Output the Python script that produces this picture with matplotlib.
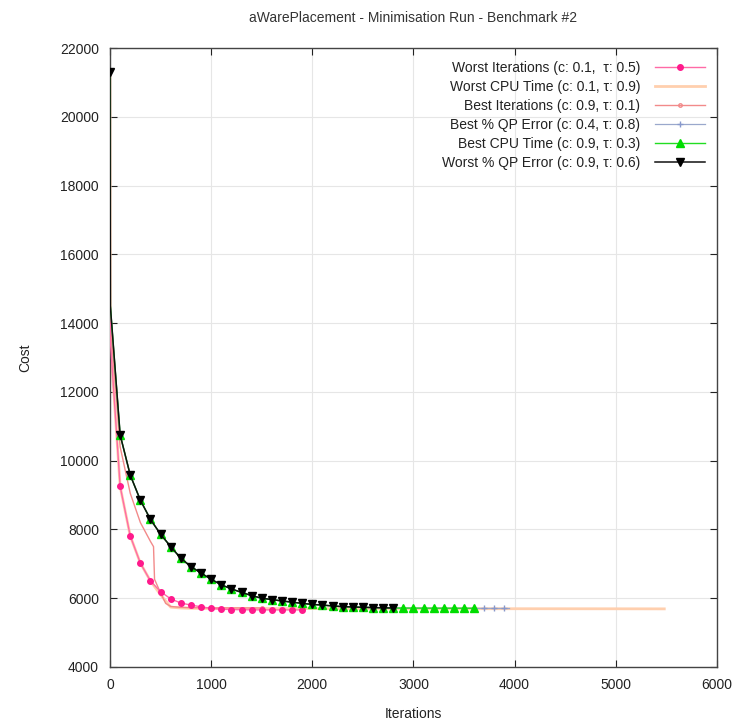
import matplotlib
matplotlib.use('Agg')
import matplotlib.pyplot as plt

plt.rcParams['font.family'] = ['Liberation Sans', 'DejaVu Sans']
plt.rcParams['font.size'] = 10

# Cost per iteration
worst_iter_x = [0, 3, 100, 200, 300, 400, 500, 600, 700, 800, 900, 1000, 1100,
                1200, 1300, 1400, 1500, 1600, 1700, 1800, 1900]
worst_iter_y = [21300, 13500, 9250, 7810, 7020, 6500, 6190, 5980, 5860, 5800,
                5750, 5705, 5680, 5670, 5665, 5662, 5660, 5660, 5660, 5660, 5660]

worst_cpu_x = [0, 3, 100, 200, 300, 400, 500, 600, 700, 800, 1000, 1500, 2000,
               2500, 3000, 3500, 4000, 4500, 5000, 5480]
worst_cpu_y = [21300, 13500, 9250, 7810, 7020, 6500, 6100, 5740, 5715, 5705,
               5700, 5700, 5698, 5697, 5696, 5695, 5694, 5693, 5692, 5690]

best_iter_x = [0, 3, 100, 200, 300, 400, 430, 440, 500, 550, 600, 700, 800,
               1000, 1200, 1500]
best_iter_y = [21300, 14000, 10400, 9050, 8200, 7650, 7500, 6550, 6150, 5850,
               5760, 5735, 5725, 5720, 5718, 5716]

best_qp_x = [0, 3, 100, 200, 300, 400, 500, 600, 700, 800, 900, 1000, 1100,
             1200, 1300, 1400, 1500, 1600, 1700, 1800, 1900, 2000, 2100, 2200,
             2300, 2400, 2500, 2600, 2700, 2800, 2900, 3000, 3100, 3200, 3300,
             3400, 3500, 3600, 3700, 3800, 3900, 3950]
best_qp_y = [21300, 14500, 10750, 9580, 8850, 8290, 7860, 7500, 7160, 6920,
             6730, 6550, 6390, 6270, 6170, 6075, 6000, 5960, 5920, 5885, 5850,
             5820, 5800, 5775, 5755, 5745, 5735, 5728, 5720, 5715, 5712, 5710,
             5709, 5708, 5707, 5706, 5705, 5704, 5703, 5702, 5701, 5700]

best_cpu_x = [0, 3, 100, 200, 300, 400, 500, 600, 700, 800, 900, 1000, 1100,
              1200, 1300, 1400, 1500, 1600, 1700, 1800, 1900, 2000, 2100, 2200,
              2300, 2400, 2500, 2600, 2700, 2800, 2900, 3000, 3100, 3200, 3300,
              3400, 3500, 3600]
best_cpu_y = [21300, 14500, 10750, 9580, 8850, 8290, 7860, 7500, 7160, 6920,
              6730, 6550, 6390, 6270, 6170, 6075, 6000, 5960, 5920, 5885, 5850,
              5820, 5800, 5775, 5755, 5745, 5735, 5728, 5720, 5715, 5713, 5712,
              5711, 5710, 5710, 5709, 5709, 5708]

worst_qp_x = [0, 3, 100, 200, 300, 400, 500, 600, 700, 800, 900, 1000, 1100,
              1200, 1300, 1400, 1500, 1600, 1700, 1800, 1900, 2000, 2100, 2200,
              2300, 2400, 2500, 2600, 2700, 2800]
worst_qp_y = [21300, 14500, 10750, 9580, 8850, 8290, 7860, 7500, 7160, 6920,
              6730, 6550, 6390, 6270, 6170, 6075, 6000, 5960, 5920, 5885, 5850,
              5820, 5800, 5775, 5755, 5745, 5735, 5728, 5720, 5715]

LABELS = ['Worst Iterations (c: 0.1,  \u03c4: 0.5)',
          'Worst CPU Time (c: 0.1, \u03c4: 0.9)',
          'Best Iterations (c: 0.9, \u03c4: 0.1)',
          'Best % QP Error (c: 0.4, \u03c4: 0.8)',
          'Best CPU Time (c: 0.9, \u03c4: 0.3)',
          'Worst % QP Error (c: 0.9, \u03c4: 0.6)']


def every(xs, step=100):
    return [i for i, v in enumerate(xs) if v % step == 0 and v > 0]


fig = plt.figure(figsize=(7.36, 7.22), dpi=100)
ax = fig.add_axes([0.1495, 0.0762, 0.8245, 0.8573])

ax.plot(worst_iter_x, worst_iter_y, color='#ff6aa6', lw=1.0, marker='o',
        ms=4, mfc='#ff1a8c', mec='#ff1a8c', markevery=every(worst_iter_x),
        label=LABELS[0], zorder=4)
ax.plot(worst_cpu_x, worst_cpu_y, color='#ffcfae', lw=2.0,
        label=LABELS[1], zorder=2)
ax.plot(best_iter_x, best_iter_y, color='#f28a8a', lw=1.0, marker='o',
        ms=2.5, mfc='none', mec='#f28a8a', markevery=every(best_iter_x, 500),
        label=LABELS[2], zorder=3)
ax.plot(best_qp_x, best_qp_y, color='#9aa8cc', lw=0.9, marker='+',
        ms=4, mec='#8899cc', markevery=every(best_qp_x),
        label=LABELS[3], zorder=5)
ax.plot(best_cpu_x, best_cpu_y, color='#22dd22', lw=1.0, marker='^',
        ms=6, mfc='#00dd00', mec='#00dd00', markevery=every(best_cpu_x),
        label=LABELS[4], zorder=6)
ax.plot(worst_qp_x, worst_qp_y, color='#111111', lw=1.1, marker='v',
        ms=6, mfc='black', mec='black',
        markevery=[0] + every(worst_qp_x),
        label=LABELS[5], zorder=7)

ax.set_xlim(0, 6000)
ax.set_ylim(4000, 22000)
ax.set_xticks(range(0, 6001, 1000))
ax.set_yticks(range(4000, 22001, 2000))
ax.tick_params(direction='in', top=True, right=True, length=5,
               colors='#222222', labelcolor='#222222', pad=8)
ax.grid(True, color='#e6e6e6', lw=0.8)
ax.set_axisbelow(True)
for s in ax.spines.values():
    s.set_color('#444444')
    s.set_linewidth(1.0)

ax.set_xlabel('Iterations', color='#222222', labelpad=11)
ax.set_ylabel('Cost', color='#222222', labelpad=20)
fig.text(0.561, 0.975, 'aWarePlacement - Minimisation Run - Benchmark #2',
         ha='center', va='center', color='#333333')

leg = ax.legend(loc='upper right', bbox_to_anchor=(0.995, 0.993),
                frameon=False, markerfirst=False, numpoints=1,
                handlelength=3.6, handletextpad=1.1, labelspacing=0.36,
                borderaxespad=0.2)
for col in leg._legend_handle_box.get_children():
    col.align = 'right'
for t in leg.get_texts():
    t.set_color('#222222')

fig.savefig('out.png', dpi=100)
